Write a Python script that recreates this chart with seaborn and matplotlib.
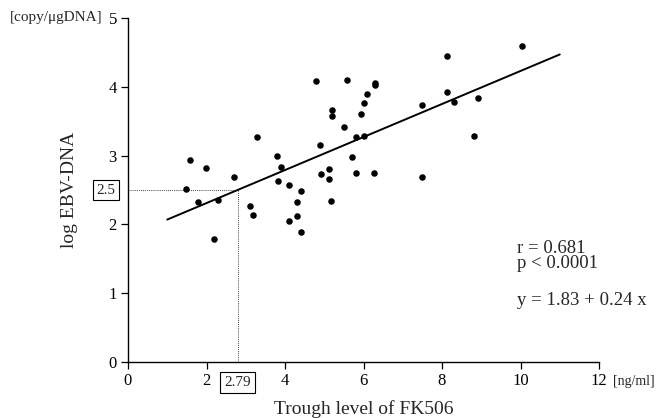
import matplotlib
matplotlib.use("Agg")
import matplotlib.pyplot as plt
import seaborn as sns
import numpy as np
import pandas as pd

# Data
fk506 = [1.49, 1.58, 1.79, 1.99, 2.19, 2.29, 2.69, 3.10, 3.19, 3.28,
         3.80, 3.81, 3.90, 4.10, 4.10, 4.30, 4.30, 4.40, 4.41, 4.79,
         4.90, 4.91, 5.11, 5.12, 5.17, 5.19, 5.19, 5.50, 5.59, 5.70,
         5.81, 5.81, 5.94, 6.00, 6.02, 6.10, 6.26, 6.30, 6.30, 7.50,
         7.50, 8.12, 8.12, 8.31, 8.82, 8.91, 10.03]
log_ebv = [2.52, 2.93, 2.33, 2.82, 1.79, 2.35, 2.69, 2.27, 2.14, 3.27,
           3.00, 2.63, 2.84, 2.57, 2.05, 2.33, 2.12, 1.89, 2.48, 4.08,
           3.15, 2.73, 2.81, 2.66, 2.34, 3.67, 3.58, 3.42, 4.10, 2.98,
           3.27, 2.75, 3.60, 3.77, 3.28, 3.89, 2.75, 4.05, 4.02, 3.73,
           2.69, 4.45, 3.92, 3.78, 3.29, 3.84, 4.60]
intercept = 1.83
slope = 0.24
fit_x = [1, 11]
cut_x = 2.79
cut_y = 2.5
x_ticks = [0, 2, 4, 6, 8, 10, 12]
y_ticks = [0, 1, 2, 3, 4, 5]

sns.set_style("white")
plt.rcParams['font.family'] = ['Liberation Serif', 'DejaVu Serif']

fig = plt.figure(figsize=(6.62, 4.18), dpi=100)
ax = fig.add_axes([128/662, 56/418, 471/662, 344/418])

df = pd.DataFrame({"x": fk506, "y": log_ebv})
sns.scatterplot(data=df, x="x", y="y", ax=ax, color="black", s=22,
                edgecolor="black", linewidth=0, zorder=3)

fit_df = pd.DataFrame({"x": fit_x, "y": [intercept + slope * v for v in fit_x]})
sns.lineplot(data=fit_df, x="x", y="y", ax=ax, color="black", linewidth=1.4)

# dotted guide lines
ax.plot([0, cut_x], [cut_y, cut_y], color="black", linestyle=(0, (1, 1.5)),
        linewidth=0.6, clip_on=False)
ax.plot([cut_x, cut_x], [0, cut_y], color="black", linestyle=(0, (1, 1.5)),
        linewidth=0.6, clip_on=False)

ax.set_xlim(0, 12)
ax.set_ylim(0, 5)
ax.set_xticks(x_ticks)
ax.set_yticks(y_ticks)
ax.set_xticklabels([str(t) for t in x_ticks])
ax.set_yticklabels([str(t) for t in y_ticks])
ax.tick_params(axis="both", direction="out", length=5, width=0.9,
               labelsize=12, colors="black", left=True, bottom=True, pad=3)
sns.despine(ax=ax)
for s in ["left", "bottom"]:
    ax.spines[s].set_color("black")
    ax.spines[s].set_linewidth(1.0)

ax.set_xlabel("Trough level of FK506", fontsize=14, labelpad=8)
ax.set_ylabel("log EBV-DNA", fontsize=14, labelpad=22)

# boxed cut-off labels
box = dict(boxstyle="square,pad=0.25", facecolor="white", edgecolor="black", linewidth=0.8)
ax.text(-0.32, cut_y, "2.5", ha="right", va="center", fontsize=11, bbox=box, clip_on=False)
ax.text(cut_x, -0.3, "2.79", ha="center", va="center", fontsize=11, bbox=box, clip_on=False)

# units
fig.text(10/662, 1 - 18/418, "[copy/μgDNA]", ha="left", va="center", fontsize=11)
fig.text(613/662, 1 - 382/418, "[ng/ml]", ha="left", va="center", fontsize=10)

# statistics
ax.text(9.92, 1.59, "r = 0.681", ha="left", va="baseline", fontsize=13.5)
ax.text(9.92, 1.36, "p < 0.0001", ha="left", va="baseline", fontsize=13.5)
ax.text(9.92, 0.83, "y = 1.83 + 0.24 x", ha="left", va="baseline", fontsize=13.5)

fig.savefig("out.png", dpi=100)
